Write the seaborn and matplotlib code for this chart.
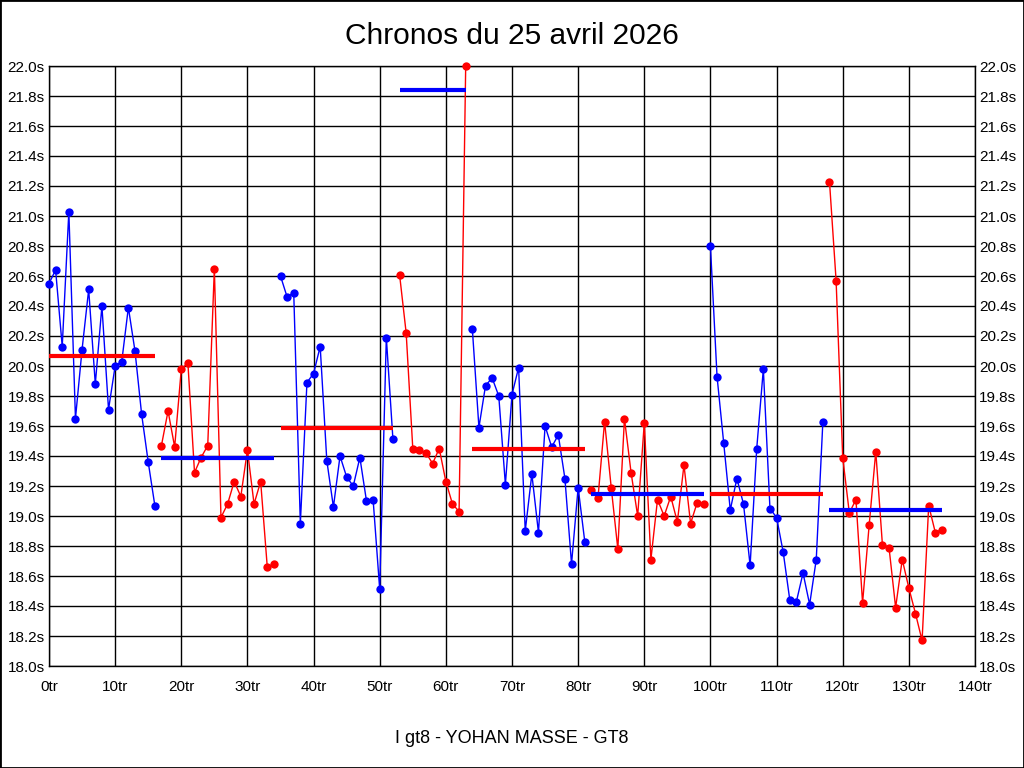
import numpy as np
import pandas as pd
import seaborn as sns
import matplotlib
matplotlib.use("Agg")
import matplotlib.pyplot as plt
from matplotlib.ticker import FuncFormatter, MultipleLocator

# first lap of each stint
stint_start = [0, 17, 35, 53, 64, 82, 100, 118]

# lap times (seconds) per stint
s1 = [20.55, 20.64, 20.13, 21.03, 19.65, 20.11, 20.51, 19.88, 20.40, 19.71,
      20.00, 20.03, 20.39, 20.10, 19.68, 19.36, 19.07]
s2 = [19.47, 19.70, 19.46, 19.98, 20.02, 19.29, 19.39, 19.47, 20.65, 18.99,
      19.08, 19.23, 19.13, 19.44, 19.08, 19.23, 18.66, 18.68]
s3 = [20.60, 20.46, 20.49, 18.95, 19.89, 19.95, 20.13, 19.37, 19.06, 19.40,
      19.26, 19.20, 19.39, 19.10, 19.11, 18.51, 20.19, 19.51]
s4 = [20.61, 20.22, 19.45, 19.44, 19.42, 19.35, 19.45, 19.23, 19.08, 19.03,
      22.00]
s5 = [20.25, 19.59, 19.87, 19.92, 19.80, 19.21, 19.81, 19.99, 18.90, 19.28,
      18.89, 19.60, 19.46, 19.54, 19.25, 18.68, 19.19, 18.83]
s6 = [19.17, 19.12, 19.63, 19.19, 18.78, 19.65, 19.29, 19.00, 19.62, 18.71,
      19.11, 19.00, 19.13, 18.96, 19.34, 18.95, 19.09, 19.08]
s7 = [20.80, 19.93, 19.49, 19.04, 19.25, 19.08, 18.67, 19.45, 19.98, 19.05,
      18.99, 18.76, 18.44, 18.43, 18.62, 18.41, 18.71, 19.63]
s8 = [21.23, 20.57, 19.39, 19.02, 19.11, 18.42, 18.94, 19.43, 18.81, 18.79,
      18.39, 18.71, 18.52, 18.35, 18.17, 19.07, 18.89, 18.91]
stints = [s1, s2, s3, s4, s5, s6, s7, s8]

# reference line shown per stint
stint_avg = [20.07, 19.39, 19.59, 21.84, 19.45, 19.15, 19.15, 19.04]

point_colors = ['#0000ff', '#ff0000'] * 4
avg_colors = ['#ff0000', '#0000ff'] * 4

# build a long table: lap, time, stint
rows = []
for i, (start, times) in enumerate(zip(stint_start, stints)):
    for k, t in enumerate(times):
        rows.append({'lap': start + k, 'time': t, 'stint': i})
df = pd.DataFrame(rows)

sns.set_style("white")
plt.rcParams['font.family'] = ['Liberation Sans', 'DejaVu Sans']
plt.rcParams['text.color'] = 'black'
plt.rcParams['axes.labelcolor'] = 'black'
plt.rcParams['xtick.color'] = 'black'
plt.rcParams['ytick.color'] = 'black'

fig = plt.figure(figsize=(10.24, 7.68), dpi=100)
ax = fig.add_axes([49 / 1024, 102 / 768, 926 / 1024, 600 / 768])

sns.lineplot(data=df, x='lap', y='time', hue='stint', palette=point_colors,
             estimator=None, marker='o', markersize=6, markeredgewidth=0,
             linewidth=1, legend=False, ax=ax, zorder=3, clip_on=False)

# stint reference lines
for i, times in enumerate(stints):
    ax.hlines(stint_avg[i], stint_start[i], stint_start[i] + len(times) - 1,
              colors=avg_colors[i], linewidth=3, zorder=4)

ax.set_xlim(0, 140)
ax.set_ylim(18.0, 22.0)
ax.xaxis.set_major_locator(MultipleLocator(10))
ax.yaxis.set_major_locator(MultipleLocator(0.2))
ax.xaxis.set_major_formatter(FuncFormatter(lambda v, p: f"{v:.0f}tr"))
ax.yaxis.set_major_formatter(FuncFormatter(lambda v, p: f"{v:.1f}s"))
ax.grid(True, color='black', linewidth=1)
ax.set_axisbelow(True)
for sp in ax.spines.values():
    sp.set_color('black')
    sp.set_linewidth(1)
ax.tick_params(axis='both', length=0, labelsize=11)
ax.tick_params(axis='y', pad=3, labelright=True, right=False)
ax.tick_params(axis='x', pad=10)
ax.set_xlabel("I gt8 - YOHAN MASSE - GT8", fontsize=13, labelpad=26)
ax.set_ylabel("")
ax.set_title("Chronos du 25 avril 2026", fontsize=21.5, pad=16, color='black')

# figure border
fig.patches.append(plt.Rectangle((0, 0), 1, 1, transform=fig.transFigure,
                                 fill=False, edgecolor='black', linewidth=2))

plt.savefig("out.png", dpi=100)
